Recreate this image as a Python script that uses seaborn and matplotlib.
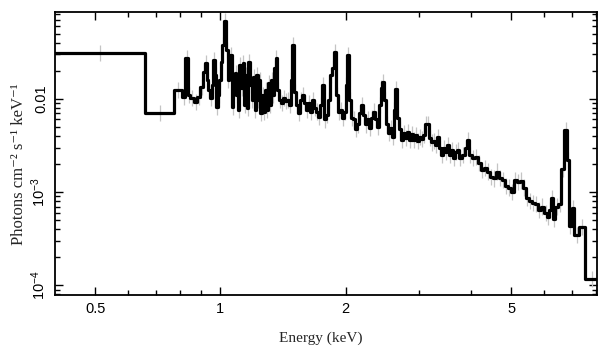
import numpy as np
import pandas as pd
import matplotlib
matplotlib.use("Agg")
import matplotlib.pyplot as plt
import seaborn as sns

# ---------------- data ----------------
# bin edges (keV)
energy_edges = [
    0.400, 0.660, 0.775, 0.810, 0.824, 0.835, 0.847, 0.866, 0.880, 0.895,
    0.910, 0.920, 0.928, 0.936, 0.946, 0.954, 0.962, 0.970, 0.978, 0.986,
    0.994, 1.003, 1.011, 1.020, 1.031, 1.040, 1.048, 1.057, 1.066, 1.075,
    1.084, 1.093, 1.102, 1.111, 1.120, 1.130, 1.139, 1.149, 1.158, 1.168,
    1.178, 1.188, 1.198, 1.208, 1.218, 1.228, 1.238, 1.248, 1.259, 1.269,
    1.280, 1.291, 1.302, 1.312, 1.323, 1.334, 1.346, 1.357, 1.368, 1.380,
    1.395, 1.411, 1.426, 1.442, 1.458, 1.475, 1.487, 1.499, 1.516, 1.533,
    1.550, 1.567, 1.585, 1.603, 1.620, 1.638, 1.657, 1.675, 1.694, 1.713,
    1.732, 1.751, 1.771, 1.791, 1.811, 1.831, 1.851, 1.872, 1.893, 1.914,
    1.935, 1.957, 1.979, 2.001, 2.018, 2.034, 2.057, 2.080, 2.103, 2.127,
    2.150, 2.174, 2.199, 2.223, 2.248, 2.273, 2.298, 2.324, 2.350, 2.376,
    2.403, 2.430, 2.450, 2.470, 2.498, 2.526, 2.554, 2.583, 2.611, 2.633,
    2.655, 2.685, 2.715, 2.745, 2.776, 2.807, 2.838, 2.870, 2.902, 2.934,
    2.967, 3.000, 3.033, 3.067, 3.101, 3.136, 3.171, 3.206, 3.242, 3.278,
    3.315, 3.352, 3.389, 3.427, 3.465, 3.504, 3.543, 3.583, 3.623, 3.663,
    3.704, 3.745, 3.808, 3.872, 3.915, 3.959, 4.025, 4.093, 4.162, 4.232,
    4.303, 4.375, 4.448, 4.523, 4.599, 4.676, 4.754, 4.834, 4.915, 4.998,
    5.082, 5.167, 5.254, 5.342, 5.431, 5.523, 5.615, 5.710, 5.805, 5.903,
    6.002, 6.103, 6.171, 6.240, 6.309, 6.380, 6.487, 6.596, 6.706, 6.819,
    6.895, 6.991, 7.089, 7.288, 7.535, 8.10,
]

# flux per bin (photons cm^-2 s^-1 keV^-1)
flux = [
    0.0310, 0.00708, 0.0125, 0.0105, 0.0270, 0.0110, 0.0102, 0.0093, 0.0105, 0.0134,
    0.0194, 0.0243, 0.0160, 0.0125, 0.0102, 0.0141, 0.0261, 0.0181, 0.0082, 0.0110,
    0.0160, 0.0249, 0.0378, 0.0680, 0.0334, 0.0160, 0.0249, 0.0296, 0.0082, 0.0125,
    0.0190, 0.0110, 0.0076, 0.0231, 0.0130, 0.0243, 0.0086, 0.0180, 0.0080, 0.0249,
    0.0141, 0.0098, 0.0172, 0.0076, 0.0180, 0.0098, 0.0160, 0.0071, 0.0110, 0.0073,
    0.0125, 0.0076, 0.0148, 0.0086, 0.0160, 0.0110, 0.0215, 0.0274, 0.0125, 0.0098,
    0.0090, 0.0102, 0.0094, 0.0098, 0.0086, 0.0160, 0.0378, 0.0119, 0.0086, 0.0071,
    0.0098, 0.0110, 0.0090, 0.0076, 0.0090, 0.0073, 0.0098, 0.0080, 0.0073, 0.0064,
    0.0086, 0.0141, 0.0060, 0.0067, 0.0098, 0.0180, 0.0215, 0.0318, 0.0110, 0.0073,
    0.0076, 0.0062, 0.0073, 0.0141, 0.0296, 0.0098, 0.0062, 0.0060, 0.0047, 0.0053,
    0.0071, 0.0086, 0.0067, 0.0053, 0.0060, 0.0049, 0.0062, 0.0073, 0.0060, 0.0050,
    0.0086, 0.0130, 0.0152, 0.0098, 0.0053, 0.0043, 0.0049, 0.0039, 0.0076, 0.0128,
    0.0062, 0.0047, 0.0036, 0.0043, 0.0038, 0.0044, 0.0036, 0.0042, 0.0036, 0.0041,
    0.0035, 0.0039, 0.0037, 0.0041, 0.0053, 0.0054, 0.0038, 0.0034, 0.0035, 0.0032,
    0.0039, 0.0030, 0.0025, 0.0030, 0.0027, 0.0032, 0.0025, 0.0028, 0.0023, 0.0027,
    0.0028, 0.0023, 0.0025, 0.0030, 0.0036, 0.0025, 0.0023, 0.0024, 0.00205, 0.00174,
    0.00180, 0.00166, 0.00146, 0.00140, 0.00166, 0.00143, 0.00136, 0.00117, 0.00112, 0.00101,
    0.00136, 0.00127, 0.00133, 0.00112, 0.00087, 0.00081, 0.00077, 0.00075, 0.00065, 0.00070,
    0.00060, 0.00054, 0.00065, 0.00087, 0.00051, 0.00070, 0.00074, 0.00178, 0.00466, 0.00223,
    0.00043, 0.00067, 0.00035, 0.00042, 0.000116,
]

err_factor = 1.22  # approximate size of the grey error bars

x_major = [0.5, 1, 2, 5]
x_major_labels = ["0.5", "1", "2", "5"]
x_minor = [0.6, 0.7, 0.8, 0.9, 3, 4, 6, 7, 8]
y_major = [1e-4, 1e-3, 1e-2]
y_major_labels = ["10$^{-4}$", "10$^{-3}$", "0.01"]

# ---------------- style ----------------
sns.set_theme(style="ticks")
plt.rcParams["font.family"] = ["Liberation Sans", "DejaVu Sans"]
plt.rcParams["mathtext.fontset"] = "custom"
plt.rcParams["mathtext.rm"] = "Liberation Sans"
plt.rcParams["mathtext.it"] = "Liberation Sans:italic"
plt.rcParams["mathtext.bf"] = "Liberation Sans:bold"

fig = plt.figure(figsize=(6.09, 3.57), dpi=100)
fig.patch.set_facecolor("white")
ax = fig.add_axes([55 / 609, 62 / 357, 542 / 609, 283 / 357])
ax.set_facecolor("white")

edges = np.array(energy_edges)
fl = np.array(flux)
centers = np.sqrt(edges[:-1] * edges[1:])

# grey data error bars
ax.vlines(centers, fl / err_factor, fl * err_factor, color="#c4c4c4", lw=0.9, zorder=1)

# black model histogram
step_df = pd.DataFrame({"energy": edges, "flux": np.append(fl, fl[-1])})
sns.lineplot(data=step_df, x="energy", y="flux", drawstyle="steps-post",
             color="black", lw=2.3, estimator=None, sort=False, ax=ax, zorder=3)

ax.set_xscale("log")
ax.set_yscale("log")
ax.set_xlim(0.4, 8.05)
ax.set_ylim(7.9e-5, 0.085)

ax.xaxis.set_major_locator(matplotlib.ticker.FixedLocator(x_major))
ax.xaxis.set_minor_locator(matplotlib.ticker.FixedLocator(x_minor))
ax.xaxis.set_minor_formatter(matplotlib.ticker.NullFormatter())
ax.set_xticklabels(x_major_labels)
ax.yaxis.set_major_locator(matplotlib.ticker.FixedLocator(y_major))
ax.yaxis.set_minor_locator(matplotlib.ticker.LogLocator(base=10, subs=np.arange(2, 10)))
ax.yaxis.set_minor_formatter(matplotlib.ticker.NullFormatter())
ax.set_yticklabels(y_major_labels, rotation=90, va="center")

ax.tick_params(which="both", direction="in", top=True, right=True,
               width=1.0, color="black", labelsize=10.5, labelcolor="black")
ax.tick_params(which="major", length=5.5, pad=5)
ax.tick_params(which="minor", length=3.5)
for s in ax.spines.values():
    s.set_linewidth(1.3)
    s.set_color("black")

ax.set_xlabel("")
ax.set_ylabel("")
fig.text(19 / 609, 1 - 164 / 357, "Photons cm\u207b\u00b2 s\u207b\u00b9 keV\u207b\u00b9",
         rotation=90, ha="center", va="center", fontsize=12,
         family=["Liberation Serif", "DejaVu Serif"])
fig.text(321 / 609, 1 - 338 / 357, "Energy (keV)", ha="center", va="center",
         fontsize=11, family=["Liberation Serif", "DejaVu Serif"])

fig.savefig("out.png", dpi=100, facecolor="white")
